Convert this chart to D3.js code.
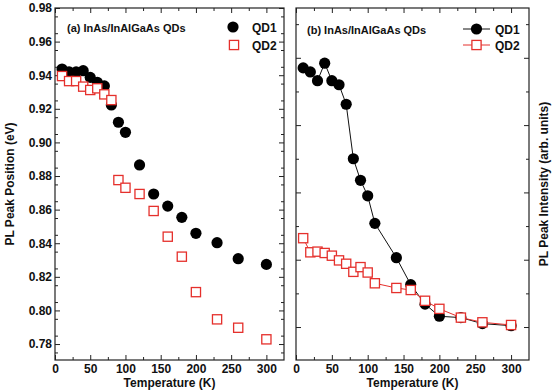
<!DOCTYPE html>
<html>
<head>
<meta charset="utf-8">
<script src="https://cdn.jsdelivr.net/npm/d3@7"></script>
<style>
  body { margin: 0; background: #fff; }
  svg text { font-family: "Liberation Sans", Arial, sans-serif; font-weight: bold; fill: #111; }
</style>
</head>
<body>
<div id="chart"></div>
<script>
// panel (a): peak position
const tempsA = [10, 20, 30, 40, 50, 60, 70, 80, 90, 100, 120, 140, 160, 180, 200, 230, 260, 300];
const posQD1 = [0.9437, 0.942, 0.942, 0.9427, 0.9387, 0.9358, 0.9336, 0.9223, 0.912, 0.906, 0.8866, 0.8693, 0.8621, 0.8554, 0.8459, 0.8403, 0.8308, 0.8274];
const posQD2 = [0.9395, 0.9365, 0.9365, 0.9332, 0.9312, 0.9322, 0.9286, 0.9252, 0.8776, 0.873, 0.8693, 0.8592, 0.8439, 0.832, 0.8109, 0.7947, 0.7897, 0.7828];

// panel (b): peak intensity (arb. units)
const tempsB = [10, 20, 30, 40, 50, 60, 70, 80, 90, 100, 110, 140, 160, 180, 200, 230, 260, 300];
const intQD1 = [4.85, 4.79, 4.66, 4.92, 4.66, 4.6, 4.31, 3.5, 3.18, 2.95, 2.54, 2.03, 1.63, 1.34, 1.16, 1.14, 1.05, 1.02];
const intQD2 = [2.32, 2.11, 2.12, 2.1, 2.06, 1.99, 1.94, 1.82, 1.89, 1.81, 1.65, 1.58, 1.55, 1.39, 1.27, 1.14, 1.07, 1.03];

const xTicks = [0, 50, 100, 150, 200, 250, 300];
const posTicks = [0.78, 0.80, 0.82, 0.84, 0.86, 0.88, 0.90, 0.92, 0.94, 0.96, 0.98];
const intTicks = [1, 2, 3, 4, 5];

const red = '#e5302c';
const axisColor = '#222';

const svg = d3.select('#chart').append('svg')
  .attr('width', 552)
  .attr('height', 390);

const plotTop = 8, plotBottom = 360;

function framePanel(left, right, x, y, yMajor, yMinor, showYLabels) {
  let g = svg.append('g');

  // minor ticks first
  let xMinor = d3.range(25, 325, 50);
  g.append('g').attr('transform', `translate(0,${plotBottom})`)
    .call(d3.axisBottom(x).tickValues(xMinor).tickSize(-3).tickFormat(''));
  g.append('g').attr('transform', `translate(0,${plotTop})`)
    .call(d3.axisTop(x).tickValues(xMinor).tickSize(-3).tickFormat(''));
  g.append('g').attr('transform', `translate(${left},0)`)
    .call(d3.axisLeft(y).tickValues(yMinor).tickSize(-3).tickFormat(''));
  g.append('g').attr('transform', `translate(${right},0)`)
    .call(d3.axisRight(y).tickValues(yMinor).tickSize(-3).tickFormat(''));

  // major ticks
  g.append('g').attr('class', 'xaxis').attr('transform', `translate(0,${plotBottom})`)
    .call(d3.axisBottom(x).tickValues(xTicks).tickSize(-5).tickPadding(4).tickFormat(d3.format('d')));
  g.append('g').attr('transform', `translate(0,${plotTop})`)
    .call(d3.axisTop(x).tickValues(xTicks).tickSize(-5).tickFormat(''));
  g.append('g').attr('class', 'yaxis').attr('transform', `translate(${left},0)`)
    .call(d3.axisLeft(y).tickValues(yMajor).tickSize(-5).tickPadding(3)
      .tickFormat(showYLabels ? d3.format('.2f') : ''));
  g.append('g').attr('transform', `translate(${right},0)`)
    .call(d3.axisRight(y).tickValues(yMajor).tickSize(-5).tickFormat(''));

  g.selectAll('.domain').remove();
  g.selectAll('line').attr('stroke', axisColor).attr('stroke-width', 1);
  g.selectAll('text').attr('font-size', 12).attr('fill', '#111')
    .attr('font-family', '"Liberation Sans", Arial, sans-serif').attr('font-weight', 'bold');

  // frame
  g.append('rect')
    .attr('x', left).attr('y', plotTop)
    .attr('width', right - left).attr('height', plotBottom - plotTop)
    .attr('fill', 'none').attr('stroke', axisColor).attr('stroke-width', 1.2);

  g.append('text')
    .attr('x', (left + right) / 2).attr('y', 386.5)
    .attr('text-anchor', 'middle').attr('font-size', 12)
    .text('Temperature (K)');
  return g;
}

// ---------- panel (a) ----------
const xA = d3.scaleLinear().domain([0, 325]).range([55, 284]);
const yA = d3.scaleLinear().domain([0.7705, 0.98]).range([plotBottom, plotTop]);
framePanel(55, 284, xA, yA, posTicks, d3.range(0.775, 0.98, 0.01).map(d => +d.toFixed(3)), true);

svg.append('text')
  .attr('transform', `translate(14,${(plotTop + plotBottom) / 2}) rotate(-90)`)
  .attr('text-anchor', 'middle').attr('font-size', 12)
  .text('PL Peak Position (eV)');

let gA = svg.append('g');
gA.selectAll('circle.qd1').data(tempsA).enter().append('circle')
  .attr('cx', d => xA(d))
  .attr('cy', (d, i) => yA(posQD1[i]))
  .attr('r', 5.6)
  .attr('fill', '#000');
gA.selectAll('rect.qd2').data(tempsA).enter().append('rect')
  .attr('x', d => xA(d) - 4.6)
  .attr('y', (d, i) => yA(posQD2[i]) - 4.6)
  .attr('width', 9.2).attr('height', 9.2)
  .attr('fill', '#fff').attr('stroke', red).attr('stroke-width', 1.3);

svg.append('text').attr('x', 67).attr('y', 32).attr('font-size', 11)
  .text('(a) InAs/InAlGaAs QDs');

// legend (a)
svg.append('circle').attr('cx', 233).attr('cy', 27).attr('r', 5.6).attr('fill', '#000');
svg.append('rect').attr('x', 229.4).attr('y', 40.4).attr('width', 9.2).attr('height', 9.2)
  .attr('fill', '#fff').attr('stroke', red).attr('stroke-width', 1.3);
svg.append('text').attr('x', 252).attr('y', 31.5).attr('font-size', 12).text('QD1');
svg.append('text').attr('x', 252).attr('y', 49.5).attr('font-size', 12).text('QD2');

// ---------- panel (b) ----------
const xB = d3.scaleLinear().domain([0, 325]).range([296, 529]);
const yB = d3.scaleLinear().domain([0.51, 5.74]).range([plotBottom, plotTop]);
framePanel(296, 529, xB, yB, intTicks, [1.5, 2.5, 3.5, 4.5, 5.5], false);

svg.append('text')
  .attr('transform', `translate(548,${(plotTop + plotBottom) / 2}) rotate(-90)`)
  .attr('text-anchor', 'middle').attr('font-size', 12)
  .text('PL Peak Intensity (arb. units)');

let line = (ys) => d3.line().x(d => xB(d)).y((d, i) => yB(ys[i]));
let gB = svg.append('g');
gB.append('path').datum(tempsB).attr('d', line(intQD1))
  .attr('fill', 'none').attr('stroke', '#111').attr('stroke-width', 1);
gB.selectAll('circle.qd1').data(tempsB).enter().append('circle')
  .attr('cx', d => xB(d))
  .attr('cy', (d, i) => yB(intQD1[i]))
  .attr('r', 5.6)
  .attr('fill', '#000');
gB.append('path').datum(tempsB).attr('d', line(intQD2))
  .attr('fill', 'none').attr('stroke', red).attr('stroke-width', 1);
gB.selectAll('rect.qd2').data(tempsB).enter().append('rect')
  .attr('x', d => xB(d) - 4.6)
  .attr('y', (d, i) => yB(intQD2[i]) - 4.6)
  .attr('width', 9.2).attr('height', 9.2)
  .attr('fill', '#fff').attr('stroke', red).attr('stroke-width', 1.3);

svg.append('text').attr('x', 307).attr('y', 34).attr('font-size', 11)
  .text('(b) InAs/InAlGaAs QDs');

// legend (b)
svg.append('line').attr('x1', 463).attr('x2', 490).attr('y1', 29).attr('y2', 29)
  .attr('stroke', '#111').attr('stroke-width', 1);
svg.append('circle').attr('cx', 476.5).attr('cy', 29).attr('r', 5.6).attr('fill', '#000');
svg.append('line').attr('x1', 463).attr('x2', 490).attr('y1', 45).attr('y2', 45)
  .attr('stroke', red).attr('stroke-width', 1);
svg.append('rect').attr('x', 471.9).attr('y', 40.4).attr('width', 9.2).attr('height', 9.2)
  .attr('fill', '#fff').attr('stroke', red).attr('stroke-width', 1.3);
svg.append('text').attr('x', 495).attr('y', 33.5).attr('font-size', 12).text('QD1');
svg.append('text').attr('x', 495).attr('y', 49.5).attr('font-size', 12).text('QD2');
</script>
</body>
</html>
